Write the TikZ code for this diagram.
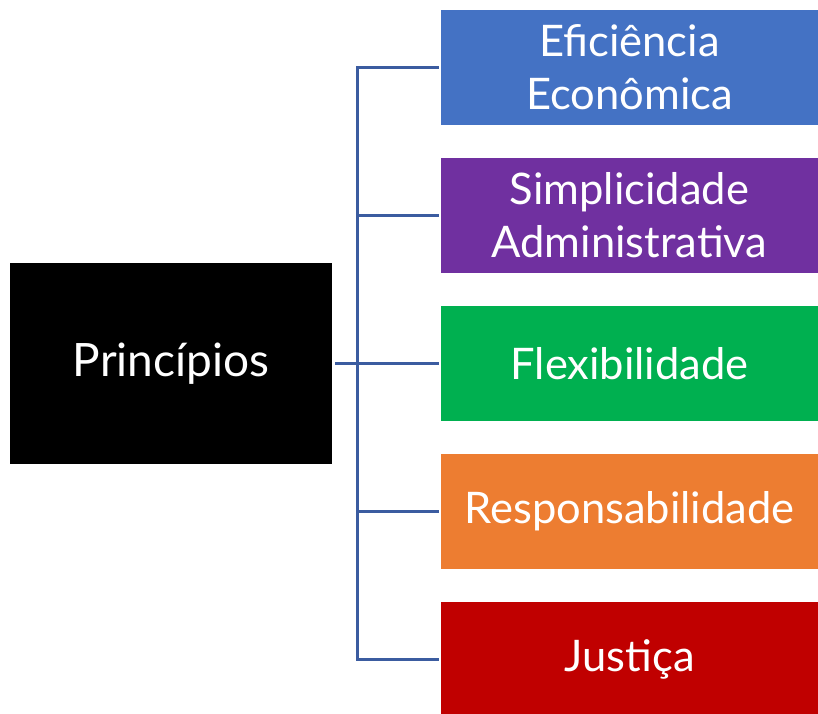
\documentclass[tikz,border=0pt]{standalone}
\usepackage{fontspec}
\setmainfont{Lato}
\definecolor{cblue}{HTML}{4472C4}
\definecolor{cpurple}{HTML}{7030A0}
\definecolor{cgreen}{HTML}{00B050}
\definecolor{corange}{HTML}{ED7D31}
\definecolor{cred}{HTML}{C00000}
\definecolor{cline}{RGB}{59,92,160}
\begin{document}
\begin{tikzpicture}[x=1pt,y=-1pt,
  catbox/.style={minimum width=377pt,minimum height=115pt,inner sep=0pt,text=white,
    font=\fontsize{43.5}{53}\selectfont,align=center},
  conn/.style={draw=cline,line width=3pt}]
\useasboundingbox (0,0) rectangle (818,713);
\node[fill=black,minimum width=322pt,minimum height=201pt,inner sep=0pt,text=white,
  font=\fontsize{46}{53}\selectfont] (root) at (171,363.5) {Princípios};
\begin{scope}
\clip (0,0) rectangle (818,713);
\node[catbox,fill=cblue] (b1) at (629.5,67.5) {Eficiência\\Econômica};
\node[catbox,fill=cpurple] (b2) at (629.5,215.5) {Simplicidade\\Administrativa};
\node[catbox,fill=cgreen] (b3) at (629.5,363.5) {Flexibilidade};
\node[catbox,fill=corange] (b4) at (629.5,511.5) {Responsabilidade};
\node[catbox,fill=cred] (b5) at (629.5,659.5) {Justiça};
\end{scope}
\coordinate (bus) at (357,363.5);
\draw[conn] ([xshift=3pt]root.east) -- ([xshift=-2pt]b3.west);
\draw[conn] ([xshift=-2pt]b1.west) -- (b1.west -| bus) -- (b5.west -| bus) -- ([xshift=-2pt]b5.west);
\draw[conn] (b2.west -| bus) -- ([xshift=-2pt]b2.west);
\draw[conn] (b4.west -| bus) -- ([xshift=-2pt]b4.west);
\end{tikzpicture}
\end{document}
